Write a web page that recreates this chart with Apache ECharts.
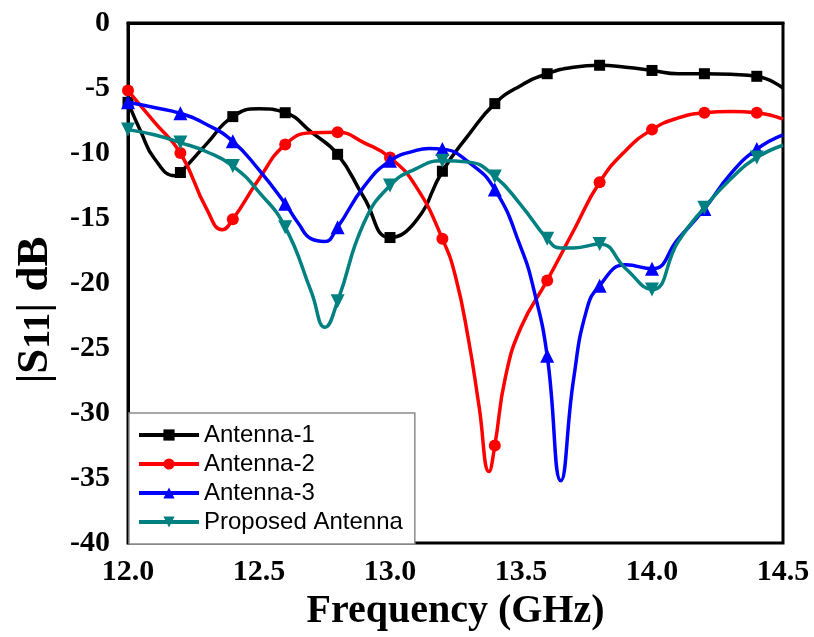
<!DOCTYPE html>
<html>
<head>
<meta charset="utf-8">
<script src="https://cdn.jsdelivr.net/npm/echarts@6/dist/echarts.min.js"></script>
<style>
html,body{margin:0;padding:0;background:#fff;}
#chart{width:814px;height:637px;}
</style>
</head>
<body>
<div id="chart"></div>
<script>
// Frequency (GHz) and |S11| (dB) values
var seriesNames = ['Antenna-1', 'Antenna-2', 'Antenna-3', 'Proposed Antenna'];
var markerFreqs = [12.0, 12.2, 12.4, 12.6, 12.8, 13.0, 13.2, 13.4, 13.6, 13.8, 14.0, 14.2, 14.4];
var xTicks = [12.0, 12.5, 13.0, 13.5, 14.0, 14.5];
var yTicks = [0, -5, -10, -15, -20, -25, -30, -35, -40];

var a1Freq = [12.00, 12.05, 12.10, 12.18, 12.20, 12.30, 12.40, 12.50, 12.60, 12.70, 12.80, 12.90, 13.00, 13.10, 13.20, 13.30, 13.40, 13.50, 13.60, 13.70, 13.80, 13.90, 14.00, 14.10, 14.20, 14.30, 14.40, 14.50];
var a1Val  = [-6.1, -8.4, -10.4, -11.75, -11.5, -9.3, -7.2, -6.6, -6.9, -8.4, -10.1, -13.4, -16.5, -15.2, -11.4, -8.6, -6.2, -4.8, -3.9, -3.4, -3.25, -3.4, -3.65, -3.9, -3.9, -3.95, -4.1, -5.0];

var a2Freq = [12.00, 12.10, 12.20, 12.30, 12.36, 12.40, 12.50, 12.60, 12.70, 12.80, 12.90, 13.00, 13.10, 13.20, 13.25, 13.30, 13.34, 13.378, 13.40, 13.44, 13.50, 13.60, 13.70, 13.80, 13.90, 14.00, 14.10, 14.20, 14.30, 14.40, 14.50];
var a2Val  = [-5.2, -7.6, -10.0, -14.3, -15.9, -15.1, -12.0, -9.35, -8.45, -8.4, -9.2, -10.35, -12.6, -16.6, -19.5, -24.4, -29.5, -34.5, -32.5, -27.3, -23.4, -19.8, -16.0, -12.25, -9.8, -8.2, -7.3, -6.9, -6.8, -6.9, -7.4];

var a3Freq = [12.00, 12.10, 12.20, 12.30, 12.40, 12.50, 12.60, 12.65, 12.70, 12.75, 12.80, 12.90, 13.00, 13.10, 13.15, 13.20, 13.30, 13.40, 13.50, 13.55, 13.60, 13.652, 13.70, 13.75, 13.80, 13.90, 14.00, 14.10, 14.20, 14.30, 14.40, 14.50];
var a3Val  = [-6.1, -6.5, -6.95, -7.8, -9.1, -11.3, -13.9, -15.4, -16.6, -16.8, -15.7, -12.6, -10.6, -9.8, -9.65, -9.7, -10.7, -12.8, -17.3, -20.6, -25.6, -35.2, -27.5, -22.1, -20.2, -18.6, -18.9, -16.6, -14.3, -11.6, -9.7, -8.6];

var a4Freq = [12.00, 12.10, 12.20, 12.30, 12.40, 12.50, 12.60, 12.70, 12.752, 12.80, 12.90, 13.00, 13.10, 13.20, 13.30, 13.40, 13.50, 13.60, 13.65, 13.70, 13.80, 13.90, 14.00, 14.10, 14.20, 14.30, 14.40, 14.50];
var a4Val  = [-8.2, -8.6, -9.2, -9.9, -11.0, -13.0, -15.7, -20.7, -23.4, -21.4, -15.4, -12.5, -11.2, -10.6, -10.7, -11.8, -14.0, -16.6, -17.3, -17.3, -17.0, -18.9, -20.5, -16.8, -14.2, -12.0, -10.35, -9.4];

var colors = ['#000000', '#ff0000', '#0000ff', '#008080'];
var symbols = ['rect', 'circle', 'triangle', 'path://M0,0 L10,0 L5,9 Z'];
var symbolSizes = [11, 12, 14, 14];

function isMarker(f) {
  for (var i = 0; i < markerFreqs.length; i++) {
    if (Math.abs(markerFreqs[i] - f) < 1e-6) return true;
  }
  return false;
}
function build(freq, val) {
  return freq.map(function (f, i) {
    var item = { value: [f, val[i]] };
    if (!isMarker(f)) item.symbol = 'none';
    return item;
  });
}
var allData = [build(a1Freq, a1Val), build(a2Freq, a2Val), build(a3Freq, a3Val), build(a4Freq, a4Val)];

var series = seriesNames.map(function (name, k) {
  return {
    name: name,
    type: 'line',
    data: allData[k],
    smooth: 0.5,
    symbol: symbols[k],
    symbolSize: symbolSizes[k],
    showAllSymbol: true,
    clip: true,
    lineStyle: { color: colors[k], width: 3.5 },
    itemStyle: { color: colors[k] },
    emphasis: { disabled: true },
    z: 2 + k
  };
});

var chart = echarts.init(document.getElementById('chart'), null, { renderer: 'canvas' });
chart.setOption({
  animation: false,
  backgroundColor: '#ffffff',
  grid: {
    left: 128, right: 31, top: 23, bottom: 91,
    show: true, borderColor: '#000', borderWidth: 3, backgroundColor: 'transparent'
  },
  legend: {
    orient: 'vertical',
    left: 129, top: 413,
    backgroundColor: '#ffffff',
    borderColor: '#8c8c8c', borderWidth: 1.5,
    padding: [10, 12, 10, 8],
    itemGap: 5,
    itemWidth: 60, itemHeight: 14,
    lineStyle: { width: 4 },
    textStyle: { fontFamily: 'Liberation Sans', fontSize: 24, color: '#000' },
    data: seriesNames
  },
  xAxis: {
    type: 'value',
    min: 12.0, max: 14.5, interval: 0.5,
    name: 'Frequency (GHz)',
    nameLocation: 'middle',
    nameGap: 44,
    nameTextStyle: { fontFamily: 'Liberation Serif', fontWeight: 'bold', fontSize: 40, color: '#000' },
    axisLine: { show: true, lineStyle: { color: '#000', width: 3 } },
    axisTick: { show: false },
    splitLine: { show: false },
    axisLabel: {
      margin: 14,
      fontFamily: 'Liberation Serif', fontWeight: 'bold', fontSize: 30, color: '#000',
      formatter: function (v) { return v.toFixed(1); }
    }
  },
  yAxis: {
    type: 'value',
    min: -40, max: 0, interval: 5,
    name: '{a||S}{b|11}{a|| dB}',
    nameLocation: 'middle',
    nameGap: 70,
    nameRotate: 90,
    nameTextStyle: {
      fontFamily: 'Liberation Serif', fontWeight: 'bold', fontSize: 45, color: '#000',
      padding: [0, 54, 0, 0],
      rich: {
        a: { fontFamily: 'Liberation Serif', fontWeight: 'bold', fontSize: 45, color: '#000' },
        b: { fontFamily: 'Liberation Serif', fontWeight: 'bold', fontSize: 38, color: '#000', verticalAlign: 'bottom' }
      }
    },
    axisLine: { show: true, lineStyle: { color: '#000', width: 3 } },
    axisTick: { show: false },
    splitLine: { show: false },
    axisLabel: {
      margin: 18,
      fontFamily: 'Liberation Serif', fontWeight: 'bold', fontSize: 30, color: '#000',
      formatter: function (v) { return String(v); }
    }
  },
  series: series
});
</script>
</body>
</html>
